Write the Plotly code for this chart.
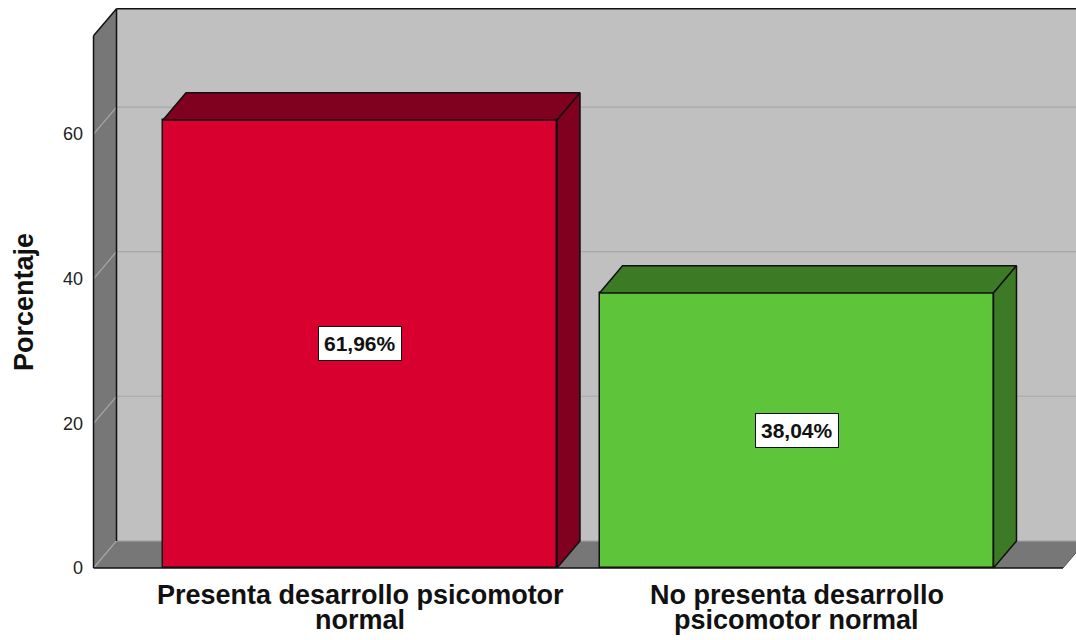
import plotly.graph_objects as go

# ---- data ----
categories = ["Presenta desarrollo psicomotor<br>normal",
              "No presenta desarrollo<br>psicomotor normal"]
percentages = [61.96, 38.04]
y_ticks = [0, 20, 40, 60]
y_title = "Porcentaje"
front_colors = ["#d7002f", "#5ec43a"]
side_colors = ["#80001f", "#3d7a25"]

# ---- geometry (pseudo-3D) ----
BAR_W = 0.9026
DX = 0.0527          # depth offset in x units
DY = 3.75            # depth offset in y units
X0 = -0.6105         # left wall front
XR = 1.6106          # floor right front
TOP = 73.6           # front top of box
WALL = "#c0c0c0"
SIDE = "#777777"
GRID = "#a8a8a8"
FONT = "Liberation Sans, Arial, sans-serif"

fig = go.Figure()

shapes = []
# back wall
shapes.append(dict(type="rect", xref="x", yref="y", layer="below",
                   x0=X0 + DX, x1=XR + DX + 0.2, y0=DY, y1=TOP + DY,
                   fillcolor=WALL, line=dict(width=0)))
# floor
shapes.append(dict(type="path", xref="x", yref="y", layer="below",
                   path=f"M {X0} 0 L {XR} 0 L {XR+DX} {DY} L {X0+DX} {DY} Z",
                   fillcolor=SIDE, line=dict(width=0)))
# left wall
shapes.append(dict(type="path", xref="x", yref="y", layer="below",
                   path=f"M {X0} 0 L {X0} {TOP} L {X0+DX} {TOP+DY} L {X0+DX} {DY} Z",
                   fillcolor=SIDE, line=dict(width=0)))
# grid lines
for v in y_ticks:
    shapes.append(dict(type="line", xref="x", yref="y", layer="below",
                       x0=X0 + DX, x1=XR + DX + 0.2, y0=v + DY, y1=v + DY,
                       line=dict(color=GRID, width=1.2)))
    shapes.append(dict(type="line", xref="x", yref="y", layer="below",
                       x0=X0, x1=X0 + DX, y0=v, y1=v + DY,
                       line=dict(color=GRID, width=1.2)))
# black edges
edges = [
    (X0, 0, X0, TOP),
    (X0, TOP, X0 + DX, TOP + DY),
    (X0 + DX, DY, X0 + DX, TOP + DY),
    (X0 + DX, TOP + DY, XR + DX + 0.2, TOP + DY),
    (X0, 0, XR, 0),
]
for (a, b, c, d) in edges:
    shapes.append(dict(type="line", xref="x", yref="y", layer="below",
                       x0=a, y0=b, x1=c, y1=d,
                       line=dict(color="#111111", width=1.5)))
shapes.append(dict(type="line", xref="x", yref="y", layer="below",
                   x0=XR, y0=0, x1=XR + DX, y1=DY,
                   line=dict(color="#555555", width=1)))

# front faces
fig.add_trace(go.Bar(x=[0, 1], y=percentages, width=BAR_W,
                     marker=dict(color=front_colors,
                                 line=dict(color="#111111", width=1.5)),
                     hoverinfo="skip", showlegend=False))

# top and side faces
for i, v in enumerate(percentages):
    xl, xr = i - BAR_W / 2, i + BAR_W / 2
    fig.add_trace(go.Scatter(
        x=[xl, xl + DX, xr + DX, xr, xl],
        y=[v, v + DY, v + DY, v, v],
        fill="toself", fillcolor=side_colors[i], mode="lines",
        line=dict(color="#111111", width=1.5),
        hoverinfo="skip", showlegend=False))
    fig.add_trace(go.Scatter(
        x=[xr, xr, xr + DX, xr + DX, xr],
        y=[0, v, v + DY, DY, 0],
        fill="toself", fillcolor=side_colors[i], mode="lines",
        line=dict(color="#111111", width=1.5),
        hoverinfo="skip", showlegend=False))

annotations = []
for i, v in enumerate(percentages):
    annotations.append(dict(
        x=i, y=v / 2, xref="x", yref="y", showarrow=False,
        text="<b>" + f"{v:.2f}".replace(".", ",") + "%</b>",
        font=dict(family=FONT, size=21, color="#111111"),
        bgcolor="white", bordercolor="#111111", borderwidth=1, borderpad=5))
    for j, line in enumerate(categories[i].split("<br>")):
        annotations.append(dict(
            x=i, y=0, xref="x", yref="paper", yanchor="middle",
            yshift=-23 - 25 * j, showarrow=False,
            text="<b>" + line + "</b>",
            font=dict(family=FONT, size=27, color="#111111")))

# y-axis title
annotations.append(dict(
    x=0, y=0.4754, xref="paper", yref="paper", xanchor="center",
    yanchor="middle", xshift=-60, textangle=-90, showarrow=False,
    text="<b>" + y_title + "</b>",
    font=dict(family=FONT, size=27, color="#111111")))

fig.update_layout(
    width=1076, height=640,
    margin=dict(l=84, r=0, t=4, b=68),
    paper_bgcolor="white", plot_bgcolor="white",
    shapes=shapes, annotations=annotations,
    xaxis=dict(range=[-0.6323, 1.6403], showticklabels=False,
               showgrid=False, zeroline=False, showline=False, ticks=""),
    yaxis=dict(range=[-0.553, 78.0], tickvals=y_ticks,
               ticktext=[str(t) for t in y_ticks],
               tickfont=dict(family=FONT, size=18, color="#222222"),
               showgrid=False, zeroline=False, showline=False, ticks=""),
    bargap=0,
)

fig.write_html("out.html")
